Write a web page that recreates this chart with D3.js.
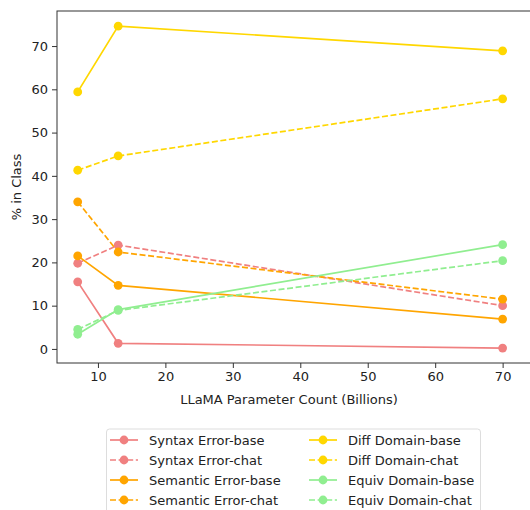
<!DOCTYPE html>
<html>
<head>
<meta charset="utf-8">
<script src="https://cdn.jsdelivr.net/npm/d3@7"></script>
<style>
  body { margin: 0; background: #fff; }
  svg { display: block; font-family: "DejaVu Sans", sans-serif; }
</style>
</head>
<body>
<div id="chart"></div>
<script>
// model sizes (billions of params)
const sizes = [7, 13, 70];

// series names, colours and dash style
const seriesNames = ["Syntax Error-base", "Syntax Error-chat", "Semantic Error-base", "Semantic Error-chat",
                     "Diff Domain-base", "Diff Domain-chat", "Equiv Domain-base", "Equiv Domain-chat"];
const seriesColors = ["#f08080", "#f08080", "#ffa500", "#ffa500", "#ffd700", "#ffd700", "#90ee90", "#90ee90"];
const seriesDashed = [false, true, false, true, false, true, false, true];

// values (% in class)
const syntaxBase   = [15.5, 1.3, 0.2];
const syntaxChat   = [19.8, 24.0, 10.0];
const semanticBase = [21.5, 14.7, 6.9];
const semanticChat = [34.0, 22.4, 11.5];
const diffBase     = [59.4, 74.6, 68.9];
const diffChat     = [41.3, 44.6, 57.8];
const equivBase    = [3.4, 9.1, 24.1];
const equivChat    = [4.5, 8.9, 20.4];

const xTicks = [10, 20, 30, 40, 50, 60, 70];
const yTicks = [0, 10, 20, 30, 40, 50, 60, 70];

const allValues = [syntaxBase, syntaxChat, semanticBase, semanticChat, diffBase, diffChat, equivBase, equivChat];

const W = 530, H = 510;
const margin = {top: 11, left: 57, bottom: 147};
const plotH = H - margin.top - margin.bottom;
const fs = 13;

const svg = d3.select("#chart").append("svg")
  .attr("width", W).attr("height", H);

// the axes run past the right edge of the picture
var x = d3.scaleLinear().domain([3.93, 74.8]).range([margin.left, 535]);
var y = d3.scaleLinear().domain([-3.25, 78.1]).range([margin.top + plotH, margin.top]);

// frame
svg.append("rect")
  .attr("x", margin.left).attr("y", margin.top)
  .attr("width", 600).attr("height", plotH)
  .attr("fill", "none").attr("stroke", "#333").attr("stroke-width", 1);

// x axis
var gx = svg.append("g")
  .attr("transform", "translate(0," + (margin.top + plotH) + ")")
  .call(d3.axisBottom(x).tickValues(xTicks).tickSize(5).tickPadding(4));
gx.select(".domain").remove();

// y axis
var gy = svg.append("g")
  .attr("transform", "translate(" + margin.left + ",0)")
  .call(d3.axisLeft(y).tickValues(yTicks).tickSize(5).tickPadding(4));
gy.select(".domain").remove();

svg.selectAll(".tick text").attr("font-size", fs).attr("fill", "#222").attr("font-family", "DejaVu Sans");
svg.selectAll(".tick line").attr("stroke", "#333");

svg.append("text")
  .attr("x", 289).attr("y", 404)
  .attr("text-anchor", "middle").attr("font-size", fs).attr("fill", "#222")
  .text("LLaMA Parameter Count (Billions)");

svg.append("text")
  .attr("transform", "translate(21," + (margin.top + plotH / 2) + ") rotate(-90)")
  .attr("text-anchor", "middle").attr("font-size", fs).attr("fill", "#222")
  .text("% in Class");

// lines + markers
var line = d3.line()
  .x(function(d, i) { return x(sizes[i]); })
  .y(function(d) { return y(d); });

var plot = svg.append("g");
allValues.forEach(function(vals, k) {
  plot.append("path")
    .attr("d", line(vals))
    .attr("fill", "none")
    .attr("stroke", seriesColors[k])
    .attr("stroke-width", 1.7)
    .attr("stroke-dasharray", seriesDashed[k] ? "6,2.6" : null);
  plot.selectAll(null)
    .data(vals).enter().append("circle")
    .attr("cx", function(d, i) { return x(sizes[i]); })
    .attr("cy", function(d) { return y(d); })
    .attr("r", 4.4)
    .attr("fill", seriesColors[k]);
});

// legend, 2 columns of 4
var legend = svg.append("g");
legend.append("rect")
  .attr("x", 106.5).attr("y", 429)
  .attr("width", 374).attr("height", 100).attr("rx", 3)
  .attr("fill", "#fff").attr("stroke", "#ddd");

seriesNames.forEach(function(name, k) {
  var col = Math.floor(k / 4), row = k % 4;
  var lx = col === 0 ? 110 : 309;
  var ly = 440 + row * 20;
  legend.append("line")
    .attr("x1", lx).attr("x2", lx + 28)
    .attr("y1", ly).attr("y2", ly)
    .attr("stroke", seriesColors[k]).attr("stroke-width", 1.7)
    .attr("stroke-dasharray", seriesDashed[k] ? "6,2.6" : null);
  legend.append("circle")
    .attr("cx", lx + 14).attr("cy", ly).attr("r", 4.4)
    .attr("fill", seriesColors[k]);
  legend.append("text")
    .attr("x", lx + 39).attr("y", ly + 4.8)
    .attr("font-size", fs).attr("fill", "#222")
    .text(name);
});
</script>
</body>
</html>
